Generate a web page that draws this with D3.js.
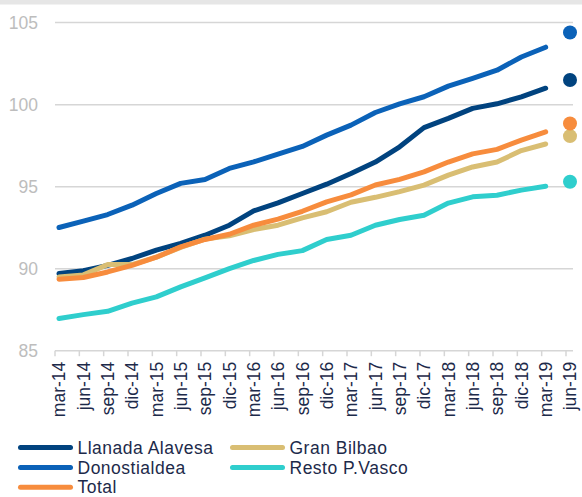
<!DOCTYPE html>
<html>
<head>
<meta charset="utf-8">
<script src="https://cdn.jsdelivr.net/npm/d3@7"></script>
<style>
  html, body { margin: 0; padding: 0; background: #ffffff; }
  svg { display: block; }
  text { font-family: "Liberation Sans", Arial, sans-serif; }
</style>
</head>
<body>
<svg id="chart" width="582" height="497"></svg>
<script>
// Quarterly index, mar-14 .. jun-19
const quarters = ["mar-14","jun-14","sep-14","dic-14","mar-15","jun-15","sep-15","dic-15",
  "mar-16","jun-16","sep-16","dic-16","mar-17","jun-17","sep-17","dic-17",
  "mar-18","jun-18","sep-18","dic-18","mar-19","jun-19"];

// Observed series (mar-14 .. mar-19)
const llanadaAlavesa = [89.7,89.87,90.2,90.62,91.13,91.54,92.04,92.65,93.52,94.01,94.58,95.15,
  95.8,96.5,97.43,98.6,99.16,99.77,100.05,100.47,101.0];
const donostialdea = [92.51,92.9,93.3,93.87,94.58,95.2,95.44,96.11,96.51,96.98,97.45,98.14,
  98.75,99.52,100.05,100.48,101.13,101.6,102.1,102.9,103.5];
const granBilbao = [89.5,89.62,90.25,90.25,90.7,91.3,91.8,92.0,92.39,92.65,93.1,93.47,
  94.05,94.35,94.7,95.09,95.7,96.2,96.5,97.2,97.6];
const restoPVasco = [86.96,87.2,87.4,87.9,88.28,88.89,89.44,90.0,90.5,90.87,91.1,91.78,
  92.04,92.65,93.0,93.26,94.0,94.38,94.48,94.79,95.03];
const total = [89.36,89.46,89.8,90.2,90.7,91.33,91.78,92.1,92.65,93.02,93.5,94.07,
  94.5,95.1,95.44,95.9,96.5,97.0,97.27,97.84,98.34];

// Single jun-19 values shown as dots
const forecastJun19 = [101.5, 104.4, 98.08, 95.3, 98.85];

const seriesNames = ["Llanada Alavesa","Donostialdea","Gran Bilbao","Resto P.Vasco","Total"];
const seriesColors = ["#01437f","#0b62b8","#d9be73","#2fcecd","#f78c3d"];
const seriesValues = [llanadaAlavesa, donostialdea, granBilbao, restoPVasco, total];

const yTicks = [85, 90, 95, 100, 105];

const svg = d3.select("#chart");

// top band
svg.append("rect").attr("x", 0).attr("y", 0).attr("width", 582).attr("height", 4.5)
  .attr("fill", "#e6e6e6");

const x = d3.scalePoint().domain(quarters).range([59, 570]);
const y = d3.scaleLinear().domain([85, 105]).range([350.7, 22.6]);

const plotLeft = 55, plotRight = 573;
const tickShift = -4;

// horizontal gridlines
svg.append("g").selectAll("line").data(yTicks.filter(d => d !== 85)).join("line")
  .attr("x1", plotLeft).attr("x2", plotRight)
  .attr("y1", d => y(d)).attr("y2", d => y(d))
  .attr("stroke", "#d6d6d6").attr("stroke-width", 1.5);

// y tick labels
svg.append("g").selectAll("text").data(yTicks).join("text")
  .attr("x", 38).attr("y", d => y(d)).attr("dy", "0.36em")
  .attr("text-anchor", "end").attr("fill", "#bdbdbd").attr("font-size", 17.5)
  .text(d => d);

// x axis baseline with ticks
const axisY = y(85);
svg.append("line").attr("x1", plotLeft).attr("x2", plotRight)
  .attr("y1", axisY).attr("y2", axisY)
  .attr("stroke", "#d6d6d6").attr("stroke-width", 1.5);
svg.append("g").selectAll("line").data(quarters).join("line")
  .attr("x1", d => x(d) + tickShift).attr("x2", d => x(d) + tickShift)
  .attr("y1", axisY).attr("y2", axisY + 5.5)
  .attr("stroke", "#d6d6d6").attr("stroke-width", 1.5);

// x tick labels, rotated
svg.append("g").selectAll("text").data(quarters).join("text")
  .attr("transform", d => `translate(${x(d)},${axisY + 11}) rotate(-90)`)
  .attr("dy", "0.36em").attr("text-anchor", "end")
  .attr("fill", "#1d2a4a").attr("font-size", 17.5)
  .text(d => d);

// lines, drawn in series order so later series sit on top
const line = d3.line().x((d, i) => x(quarters[i])).y(d => y(d)).curve(d3.curveLinear);
svg.append("g").selectAll("path").data(seriesValues).join("path")
  .attr("d", v => line(v))
  .attr("fill", "none").attr("stroke", (v, k) => seriesColors[k])
  .attr("stroke-width", 5).attr("stroke-linecap", "round").attr("stroke-linejoin", "round");

// jun-19 dots
svg.append("g").selectAll("circle").data(forecastJun19).join("circle")
  .attr("cx", x("jun-19")).attr("cy", d => y(d)).attr("r", 7)
  .attr("fill", (d, i) => seriesColors[i]);

// legend
const legendItems = [
  { k: 0, col: 0, row: 0 }, { k: 2, col: 1, row: 0 },
  { k: 1, col: 0, row: 1 }, { k: 3, col: 1, row: 1 },
  { k: 4, col: 0, row: 2 }
];
const colX = [20.5, 232.5];
const rowY = [447.5, 467.5, 487.2];
const lg = svg.append("g").selectAll("g").data(legendItems).join("g")
  .attr("transform", d => `translate(${colX[d.col]},${rowY[d.row]})`);
lg.append("line").attr("x1", 0).attr("x2", 50).attr("y1", 0).attr("y2", 0)
  .attr("stroke", d => seriesColors[d.k]).attr("stroke-width", 5).attr("stroke-linecap", "round");
lg.append("text").attr("x", 57).attr("y", 0).attr("dy", "0.35em")
  .attr("fill", "#1d2a4a").attr("font-size", 17.5).attr("letter-spacing", 0.5)
  .text(d => seriesNames[d.k]);
</script>
</body>
</html>
